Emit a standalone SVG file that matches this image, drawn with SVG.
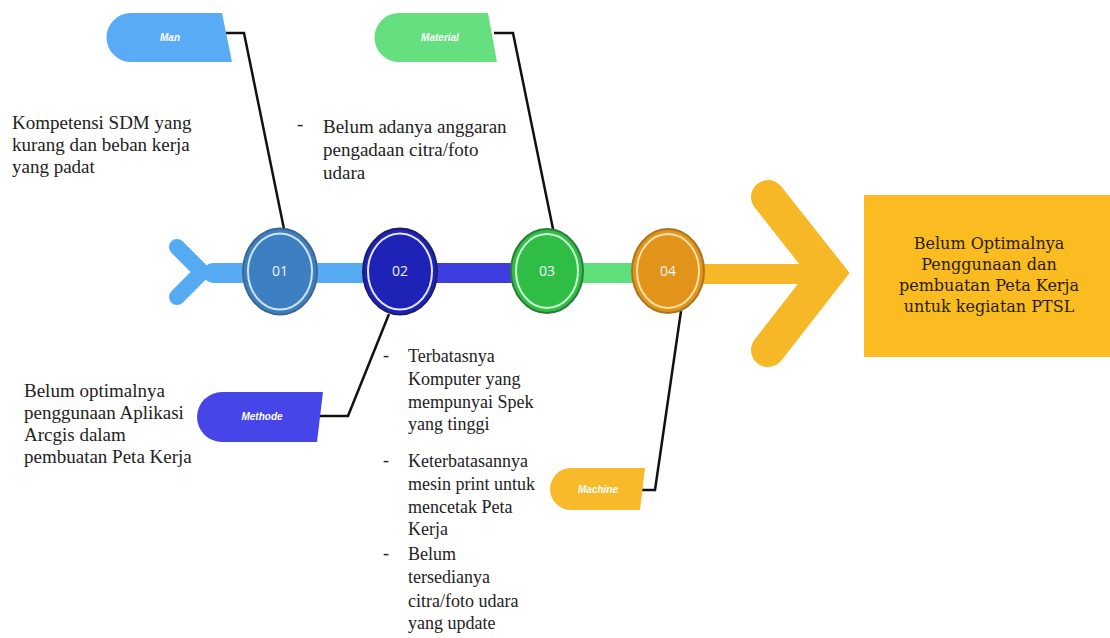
<svg xmlns="http://www.w3.org/2000/svg" width="1110" height="638" viewBox="0 0 1110 638">
<style>
.t{font-family:"Liberation Serif","Times New Roman",serif;font-size:19px;fill:#222}
.tb{font-family:"Liberation Serif","Times New Roman",serif;font-size:18px;fill:#222}
.bx{font-family:"DejaVu Serif",serif;font-size:16px;fill:#2a1d00;text-anchor:middle}
.lbl{font-family:"Liberation Sans",Arial,sans-serif;font-size:10px;font-weight:bold;font-style:italic;fill:#fff;text-anchor:middle}
.num{font-family:"Open Sans","Liberation Sans",sans-serif;font-size:14px;fill:#eef3fb;text-anchor:middle}
.conn{fill:none;stroke:#111;stroke-width:2.5}
.ring{fill:none;stroke-width:2}
</style>
<rect width="1110" height="638" fill="#fff"/>

<g id="spine">
  <polyline points="177,247 202,272 177,297" fill="none" stroke="#55aaf2" stroke-width="16" stroke-linecap="round" stroke-linejoin="round"/>
  <line x1="213" y1="273" x2="282" y2="273" stroke="#55aaf2" stroke-width="20" stroke-linecap="round"/>
  <rect x="280" y="263" width="120" height="20" fill="#55aaf2"/>
  <rect x="400" y="263" width="147" height="20" fill="#3d3de0"/>
  <rect x="547" y="263" width="121" height="20" fill="#5de07c"/>
  <rect x="668" y="264" width="165" height="20" fill="#f6b826"/>
  <polyline points="768,197 828,273 768,350" fill="none" stroke="#f6b826" stroke-width="34" stroke-linecap="round" stroke-linejoin="miter" stroke-miterlimit="4"/>
</g>

<g id="connectors">
  <polyline class="conn" points="226,33 244,33 284,229"/>
  <polyline class="conn" points="494,33 513,33 553,229"/>
  <polyline class="conn" points="318,416 348,416 389,314"/>
  <polyline class="conn" points="640,490 655,490 681,311"/>
</g>

<g id="c01">
  <ellipse cx="280" cy="271.5" rx="37" ry="43" fill="#3d7fc0" stroke="#3d6690" stroke-width="2"/>
  <ellipse class="ring" cx="280" cy="271.5" rx="32" ry="38" stroke="#cfe6ff"/>
  <text class="num" x="280" y="276">01</text>
</g>
<g id="c02">
  <ellipse cx="400" cy="271.5" rx="37" ry="43" fill="#1f22b6" stroke="#1a1e6a" stroke-width="2"/>
  <ellipse class="ring" cx="400" cy="271.5" rx="32" ry="38" stroke="#e4e6ff"/>
  <text class="num" x="400" y="276">02</text>
</g>
<g id="c03">
  <ellipse cx="547" cy="271" rx="36" ry="42" fill="#2fbd45" stroke="#2e7a3a" stroke-width="2"/>
  <ellipse class="ring" cx="547" cy="271" rx="31" ry="37" stroke="#c9ffd2"/>
  <text class="num" x="547" y="276">03</text>
</g>
<g id="c04">
  <ellipse cx="668" cy="271" rx="36" ry="42" fill="#e2941a" stroke="#a9751e" stroke-width="2"/>
  <ellipse class="ring" cx="668" cy="271" rx="31" ry="37" stroke="#ffe0a8"/>
  <text class="num" x="668" y="276">04</text>
</g>

<g id="man">
  <path d="M131 13 L222 13 L232 62 L131 62 A24.5 24.5 0 0 1 131 13 Z" fill="#5aabf5"/>
  <text class="lbl" x="170" y="41">Man</text>
</g>
<g id="material">
  <path d="M399 13 L488 13 L497 62 L399 62 A24.5 24.5 0 0 1 399 13 Z" fill="#66df80"/>
  <text class="lbl" x="440" y="41">Material</text>
</g>
<g id="methode">
  <path d="M222 392 L323 392 L317 442 L222 442 A25 25 0 0 1 222 392 Z" fill="#4545e8"/>
  <text class="lbl" x="262" y="420">Methode</text>
</g>
<g id="machine">
  <path d="M571 468 L645 468 L640 510 L571 510 A21 21 0 0 1 571 468 Z" fill="#f8b92a"/>
  <text class="lbl" x="598" y="493">Machine</text>
</g>

<g id="result">
  <rect x="864" y="195" width="246" height="162" fill="#fbbc21"/>
  <text class="bx" x="989" y="249">Belum Optimalnya</text>
  <text class="bx" x="989" y="270">Penggunaan dan</text>
  <text class="bx" x="989" y="291">pembuatan Peta Kerja</text>
  <text class="bx" x="989" y="312">untuk kegiatan PTSL</text>
</g>

<g id="text-man">
  <text class="t" x="12" y="129">Kompetensi SDM yang</text>
  <text class="t" x="12" y="151">kurang dan beban kerja</text>
  <text class="t" x="12" y="173">yang padat</text>
</g>
<g id="text-material">
  <text class="t" x="297" y="130" font-size="12">-</text>
  <text class="t" x="323" y="133">Belum adanya anggaran</text>
  <text class="t" x="323" y="156">pengadaan citra/foto</text>
  <text class="t" x="323" y="179">udara</text>
</g>
<g id="text-methode">
  <text class="t" x="24" y="397">Belum optimalnya</text>
  <text class="t" x="24" y="419">penggunaan Aplikasi</text>
  <text class="t" x="24" y="441">Arcgis dalam</text>
  <text class="t" x="24" y="463">pembuatan Peta Kerja</text>
</g>
<g id="text-machine">
  <text class="tb" x="383" y="361">-</text>
  <text class="tb" x="408" y="362">Terbatasnya</text>
  <text class="tb" x="408" y="385">Komputer yang</text>
  <text class="tb" x="408" y="408">mempunyai Spek</text>
  <text class="tb" x="408" y="430">yang tinggi</text>
  <text class="tb" x="383" y="466">-</text>
  <text class="tb" x="408" y="467">Keterbatasannya</text>
  <text class="tb" x="408" y="490">mesin print untuk</text>
  <text class="tb" x="408" y="513">mencetak Peta</text>
  <text class="tb" x="408" y="535">Kerja</text>
  <text class="tb" x="383" y="559">-</text>
  <text class="tb" x="408" y="560">Belum</text>
  <text class="tb" x="408" y="583">tersedianya</text>
  <text class="tb" x="408" y="607">citra/foto udara</text>
  <text class="tb" x="408" y="629">yang update</text>
</g>
</svg>
